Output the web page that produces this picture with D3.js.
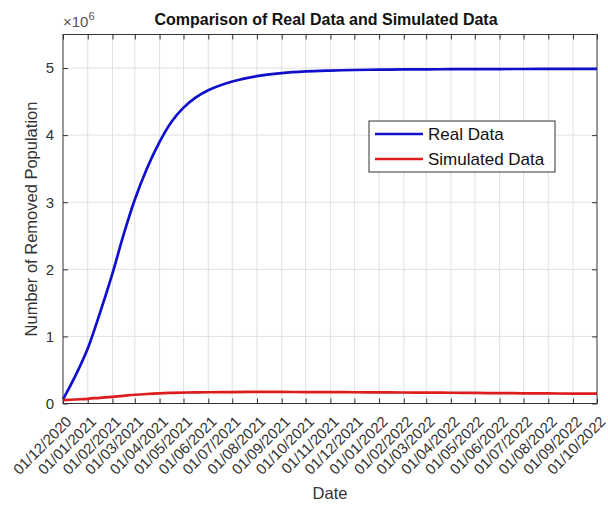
<!DOCTYPE html>
<html>
<head>
<meta charset="utf-8">
<script src="https://cdn.jsdelivr.net/npm/d3@7"></script>
<style>
  body { margin: 0; background: #fff; }
  svg { font-family: "Liberation Sans", Arial, sans-serif; }
</style>
</head>
<body>
<div class="d3-container"></div>
<script>
// sample dates (half-monthly during the fast rise, monthly afterwards)
const dates = [
  "2020-12-01", "2020-12-16", "2021-01-01", "2021-01-16", "2021-02-01", "2021-02-15",
  "2021-03-01", "2021-03-16", "2021-04-01", "2021-04-16", "2021-05-01", "2021-05-16",
  "2021-06-01", "2021-07-01", "2021-08-01", "2021-09-01", "2021-10-01", "2021-11-01",
  "2021-12-01", "2022-01-01", "2022-02-01", "2022-03-01", "2022-04-01", "2022-05-01",
  "2022-06-01", "2022-07-01", "2022-08-01", "2022-09-01", "2022-10-01"
];

// values in millions (axis shows x10^6)
const realData = [
  0.06, 0.40, 0.82, 1.34, 1.94, 2.52,
  3.04, 3.50, 3.90, 4.20, 4.41, 4.56,
  4.67, 4.80, 4.88, 4.925, 4.95, 4.963,
  4.971, 4.976, 4.979, 4.981, 4.983, 4.984,
  4.985, 4.986, 4.987, 4.988, 4.988
];
const simulatedData = [
  0.05, 0.06, 0.07, 0.085, 0.1, 0.115,
  0.13, 0.142, 0.152, 0.158, 0.163, 0.166,
  0.168, 0.171, 0.172, 0.172, 0.171, 0.17,
  0.168, 0.166, 0.164, 0.162, 0.16, 0.157,
  0.155, 0.152, 0.15, 0.148, 0.146
];

const xTickLabels = [
  "01/12/2020", "01/01/2021", "01/02/2021", "01/03/2021", "01/04/2021", "01/05/2021",
  "01/06/2021", "01/07/2021", "01/08/2021", "01/09/2021", "01/10/2021", "01/11/2021",
  "01/12/2021", "01/01/2022", "01/02/2022", "01/03/2022", "01/04/2022", "01/05/2022",
  "01/06/2022", "01/07/2022", "01/08/2022", "01/09/2022", "01/10/2022"
];
const yTicks = [0, 1, 2, 3, 4, 5];

const seriesNames = ["Real Data", "Simulated Data"];
const seriesColors = ["#1010cc", "#dd1c1c"];

const width = 608;
const height = 506;
const margin = {top: 34.5, bottom: 102.5, left: 63, right: 11};

const parseDate = d3.timeParse("%Y-%m-%d");
const parseTick = d3.timeParse("%d/%m/%Y");
const tickDates = xTickLabels.map(parseTick);
const fmt = d3.timeFormat("%d/%m/%Y");

const svg = d3.select(".d3-container")
  .append("svg")
  .attr("width", width)
  .attr("height", height);

const x = d3.scaleTime()
  .domain([tickDates[0], tickDates[tickDates.length - 1]])
  .range([margin.left, width - margin.right]);

const y = d3.scaleLinear()
  .domain([0, 5.5])
  .range([height - margin.bottom, margin.top]);

const axisColor = "#333";
const textColor = "#333";
const tickLen = 5;

// grid lines
const grid = svg.append("g").attr("stroke", "#e0e0e0").attr("stroke-width", 1);
grid.selectAll(".gx")
  .data(tickDates.slice(1, -1))
  .join("line")
  .attr("x1", d => x(d)).attr("x2", d => x(d))
  .attr("y1", y(5.5)).attr("y2", y(0));
grid.selectAll(".gy")
  .data(yTicks.slice(1))
  .join("line")
  .attr("x1", x.range()[0]).attr("x2", x.range()[1])
  .attr("y1", d => y(d)).attr("y2", d => y(d));

// bottom axis (ticks inward)
const xAxis = svg.append("g")
  .attr("transform", `translate(0, ${y(0)})`)
  .call(d3.axisBottom(x).tickValues(tickDates).tickSize(-tickLen).tickFormat(fmt));
xAxis.select(".domain").remove();
xAxis.selectAll("line").attr("stroke", axisColor);
xAxis.selectAll("text")
  .attr("fill", textColor)
  .style("font-size", "15px")
  .attr("text-anchor", "end")
  .attr("dy", null)
  .attr("y", 0)
  .attr("transform", "translate(9, 19) rotate(-45)");

// top ticks
const xTop = svg.append("g")
  .attr("transform", `translate(0, ${y(5.5)})`)
  .call(d3.axisTop(x).tickValues(tickDates).tickSize(-tickLen).tickFormat(""));
xTop.select(".domain").remove();
xTop.selectAll("line").attr("stroke", axisColor);

// left axis
const yAxis = svg.append("g")
  .attr("transform", `translate(${x.range()[0]}, 0)`)
  .call(d3.axisLeft(y).tickValues(yTicks).tickSize(-tickLen).tickPadding(9).tickFormat(d3.format("d")));
yAxis.select(".domain").remove();
yAxis.selectAll("line").attr("stroke", axisColor);
yAxis.selectAll("text").attr("fill", textColor).style("font-size", "15px");

// right ticks
const yRight = svg.append("g")
  .attr("transform", `translate(${x.range()[1]}, 0)`)
  .call(d3.axisRight(y).tickValues(yTicks).tickSize(-tickLen).tickFormat(""));
yRight.select(".domain").remove();
yRight.selectAll("line").attr("stroke", axisColor);

// lines
const series = [realData, simulatedData];
const line = d3.line()
  .x((d, i) => x(parseDate(dates[i])))
  .y(d => y(d))
  .curve(d3.curveCatmullRom.alpha(0.5));

svg.append("g")
  .selectAll("path")
  .data(series)
  .join("path")
  .attr("fill", "none")
  .attr("stroke", (d, i) => seriesColors[i])
  .attr("stroke-width", 2.7)
  .attr("d", line);

// box
svg.append("rect")
  .attr("x", x.range()[0])
  .attr("y", y(5.5))
  .attr("width", x.range()[1] - x.range()[0])
  .attr("height", y(0) - y(5.5))
  .attr("fill", "none")
  .attr("stroke", axisColor)
  .attr("stroke-width", 1);

// title and exponent
svg.append("text")
  .attr("x", (x.range()[0] + x.range()[1]) / 2 - 4)
  .attr("y", 25)
  .attr("text-anchor", "middle")
  .attr("fill", "#111")
  .style("font-size", "16px")
  .style("font-weight", "bold")
  .text("Comparison of Real Data and Simulated Data");

const expo = svg.append("text")
  .attr("x", x.range()[0])
  .attr("y", 27)
  .attr("fill", "#555")
  .style("font-size", "15px");
expo.append("tspan").text("\u00d710");
expo.append("tspan").attr("dy", -7).style("font-size", "11px").text("6");

// axis labels
svg.append("text")
  .attr("x", (x.range()[0] + x.range()[1]) / 2)
  .attr("y", 499)
  .attr("text-anchor", "middle")
  .attr("fill", textColor)
  .style("font-size", "16.5px")
  .text("Date");

svg.append("text")
  .attr("transform", `translate(37, ${(y(0) + y(5.5)) / 2}) rotate(-90)`)
  .attr("text-anchor", "middle")
  .attr("fill", textColor)
  .style("font-size", "16.5px")
  .text("Number of Removed Population");

// legend
const legend = svg.append("g").attr("transform", "translate(369, 121)");
legend.append("rect")
  .attr("width", 186)
  .attr("height", 51)
  .attr("fill", "#fff")
  .attr("stroke", axisColor)
  .attr("stroke-width", 1);
const items = legend.selectAll(".item")
  .data(seriesNames)
  .join("g")
  .attr("transform", (d, i) => `translate(0, ${13 + i * 25})`);
items.append("line")
  .attr("x1", 6).attr("x2", 54)
  .attr("stroke", (d, i) => seriesColors[i])
  .attr("stroke-width", 2.7);
items.append("text")
  .attr("x", 59)
  .attr("y", 6)
  .attr("fill", "#111")
  .style("font-size", "17px")
  .text(d => d);
</script>
</body>
</html>
